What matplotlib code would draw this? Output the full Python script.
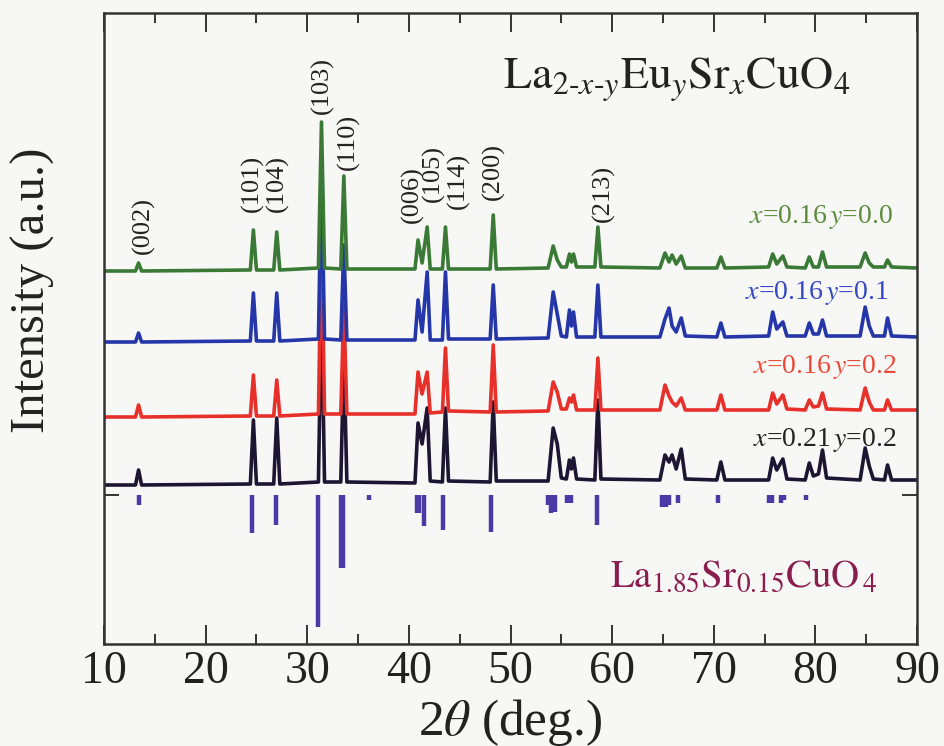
import matplotlib
matplotlib.use("Agg")
import matplotlib.pyplot as plt
from matplotlib.ticker import MultipleLocator

plt.rcParams['font.family'] = ['Liberation Serif', 'DejaVu Serif']
plt.rcParams['mathtext.fontset'] = 'stix'

# shared 2-theta grid of the traced points (deg.)
two_theta = [10.0,
             13.1, 13.4, 13.7,
             24.4, 24.7, 25.0,
             26.7, 27.0, 27.3,
             31.1, 31.4, 31.7,
             33.3, 33.6, 33.9,
             40.6, 40.9, 41.3, 41.8, 42.1,
             43.3, 43.6, 43.9,
             48.0, 48.3, 48.6,
             53.7, 54.2, 54.6, 55.0,
             55.5, 55.8, 56.0, 56.2, 56.5,
             58.3, 58.6, 58.9,
             64.7, 65.2, 65.6, 65.9, 66.3, 66.8, 67.2,
             70.3, 70.7, 71.1,
             75.4, 75.8, 76.2, 76.8, 77.2,
             79.0, 79.4, 79.8, 80.3, 80.7, 81.1,
             84.4, 84.9, 85.3, 85.7,
             86.8, 87.1, 87.5,
             90.0]

# intensities (a.u., already offset)
int_y00 = [373,
           373, 381, 373,
           374, 414, 374,
           374, 412, 374,
           376, 522, 376,
           375, 468, 375,
           375, 404, 381, 417, 375,
           375, 417, 375,
           375, 429, 375,
           376, 398, 384, 377,
           377, 390, 382, 390, 377,
           377, 417, 377,
           376, 391, 382, 389, 380, 388, 376,
           376, 387, 376,
           377, 390, 380, 388, 377,
           376, 387, 377, 377, 392, 377,
           377, 391, 381, 377,
           377, 384, 377,
           376]

int_y01 = [302,
           302, 311, 302,
           303, 351, 303,
           303, 351, 303,
           305, 479, 305,
           304, 399, 304,
           304, 344, 312, 372, 304,
           304, 372, 305,
           305, 359, 305,
           306, 352, 330, 308,
           307, 334, 318, 332, 307,
           307, 359, 307,
           307, 325, 336, 318, 312, 326, 308,
           307, 321, 307,
           308, 332, 315, 322, 308,
           308, 321, 310, 310, 324, 308,
           308, 337, 318, 308,
           308, 326, 308,
           307]

int_y02 = [227,
           227, 239, 227,
           228, 269, 228,
           228, 264, 228,
           230, 419, 230,
           230, 339, 230,
           230, 272, 250, 272, 231,
           232, 296, 233,
           232, 299, 232,
           233, 262, 252, 235,
           235, 246, 242, 249, 234,
           234, 286, 234,
           234, 259, 248, 242, 238, 246, 234,
           234, 249, 234,
           234, 251, 240, 249, 235,
           234, 244, 237, 238, 251, 235,
           234, 256, 242, 234,
           234, 244, 234,
           234]

int_x21 = [159,
           159, 174, 159,
           160, 224, 160,
           160, 226, 160,
           162, 344, 162,
           162, 289, 162,
           161, 221, 200, 236, 163,
           162, 236, 163,
           162, 242, 163,
           163, 216, 200, 166,
           165, 184, 175, 186, 165,
           164, 244, 165,
           164, 189, 182, 189, 175, 195, 165,
           164, 182, 164,
           164, 186, 174, 185, 165,
           164, 181, 168, 170, 194, 166,
           164, 196, 178, 165,
           164, 179, 164,
           164]

# reference pattern La1.85Sr0.15CuO4 (sticks hang down from the zero level)
ref_zero = 149
ref_pos = [13.4, 24.6, 26.9, 31.1, 33.3, 33.5, 36.1, 40.8, 41.0, 41.5,
           43.4, 48.1, 53.7, 54.0, 54.4, 55.6, 56.0, 58.5, 64.9, 65.3,
           65.6, 66.5, 70.4, 75.4, 75.7, 76.6, 76.9, 79.1]
ref_low = [139, 111, 119, 17, 76, 76, 144, 131, 131, 118,
           114, 112, 139, 131, 132, 141, 141, 119, 137, 137,
           139, 141, 141, 141, 141, 141, 144, 144]

hkl = ['(002)', '(101)', '(104)', '(103)', '(110)', '(006)', '(105)', '(114)', '(200)', '(213)']
hkl_x = [13.84, 24.57, 27.03, 31.46, 34.02, 40.31, 42.38, 44.84, 48.29, 59.11]
hkl_y = [419, 461, 461, 559, 502, 449, 471, 463, 472, 451]

fig = plt.figure(figsize=(9.44, 7.46), dpi=100)
fig.patch.set_facecolor('#f7f7f6')
ax = fig.add_axes([104 / 944, 1 - 644 / 746, (917 - 104) / 944, (644 - 13) / 746])
ax.set_facecolor('#f7f7f6')

ax.plot(two_theta, int_x21, color='#1c1633', lw=2.6)
ax.plot(two_theta, int_y02, color='#e8302a', lw=2.6)
ax.plot(two_theta, int_y01, color='#2436a8', lw=2.6)
ax.plot(two_theta, int_y00, color='#3b7a36', lw=2.6)

ax.vlines(ref_pos, ref_low, ref_zero, color='#4b3aa6', lw=3.2)

for lab, xx, yy in zip(hkl, hkl_x, hkl_y):
    ax.text(xx, yy, lab, rotation=90, ha='center', va='center', fontsize=19, color='#222222')

ax.text(87.66, 427, r'$x$=0.16$\,y$=0.0', ha='right', va='center', fontsize=20, color='#5b8c3c')
ax.text(87.17, 351, r'$x$=0.16$\,y$=0.1', ha='right', va='center', fontsize=20, color='#3447c4')
ax.text(88.05, 277, r'$x$=0.16$\,y$=0.2', ha='right', va='center', fontsize=20, color='#ea4a35')
ax.text(88.05, 204, r'$x$=0.21$\,y$=0.2', ha='right', va='center', fontsize=20, color='#222222')

ax.text(49.27, 564, r'$\mathrm{La}_{2\text{-}x\text{-}y}\mathrm{Eu}_{y}\mathrm{Sr}_{x}\mathrm{CuO}_{4}$',
        ha='left', va='center', fontsize=33, color='#222222')
ax.text(59.8, 67, r'$\mathrm{La}_{1.85}\mathrm{Sr}_{0.15}\mathrm{CuO}_{\,4}$',
        ha='left', va='center', fontsize=28, color='#8a1e4e')

ax.set_xlim(10, 90)
ax.set_ylim(0, 631)
ax.xaxis.set_major_locator(MultipleLocator(10))
ax.xaxis.set_minor_locator(MultipleLocator(5))
ax.set_yticks([ref_zero])
ax.set_yticklabels([])
ax.tick_params(axis='x', which='major', direction='in', length=14, width=1.4,
               top=True, labelsize=33, pad=5, colors='#333333', labelcolor='#222222')
ax.tick_params(axis='x', which='minor', direction='in', length=7, width=1.4, top=True, colors='#333333')
ax.tick_params(axis='y', direction='in', length=11, width=1.4, right=True, colors='#333333')
for s in ax.spines.values():
    s.set_linewidth(1.8)
    s.set_color('#333333')

fig.text(33 / 944, 1 - 290 / 746, 'Intensity (a.u.)', rotation=90, ha='center', va='center',
         fontsize=35, color='#222222')
fig.text(510 / 944, 1 - 722 / 746, r'2$\theta$ (deg.)', ha='center', va='center',
         fontsize=37, color='#222222')

fig.savefig('out.png', dpi=100, facecolor=fig.get_facecolor())
